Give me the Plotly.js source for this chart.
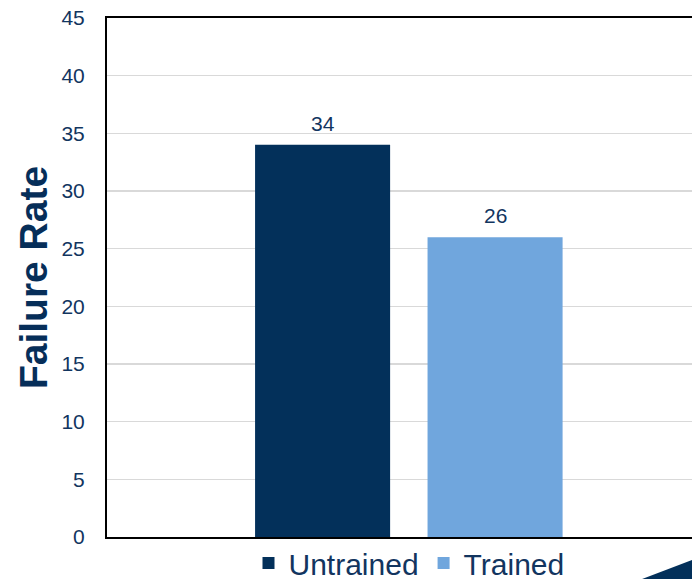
<!DOCTYPE html>
<html>
<head>
<meta charset="utf-8">
<script src="https://cdn.plot.ly/plotly-3.0.1.min.js"></script>
<style>
  html, body { margin: 0; padding: 0; overflow: hidden; background: #ffffff; }
  #chart { width: 720px; height: 579px; }
</style>
</head>
<body>
<div id="chart"></div>
<script>
// Failure rate by training group
const groups = ['Untrained', 'Trained'];
const failureRate = [34, 26];
const barColors = ['#03305a', '#70a6dd'];
const yTicks = [0, 5, 10, 15, 20, 25, 30, 35, 40, 45];

const navyText = '#12355f';
const font = 'Arial, "Liberation Sans", sans-serif';

const traces = groups.map((g, i) => ({
  type: 'bar',
  name: g,
  x: [g],
  y: [failureRate[i]],
  width: 0.783,
  marker: { color: barColors[i], line: { width: 0 } },
  hoverinfo: 'name+y'
}));

// value labels sitting above each bar
const labels = groups.map((g, i) => ({
  x: g, y: failureRate[i], xref: 'x', yref: 'y',
  text: String(failureRate[i]),
  showarrow: false, yanchor: 'bottom', yshift: 8,
  font: { family: font, size: 21, color: navyText }
}));

const layout = {
  width: 720,
  height: 579,
  margin: { l: 107, r: 9, t: 18, b: 42, autoexpand: false },
  paper_bgcolor: '#ffffff',
  plot_bgcolor: '#ffffff',
  barmode: 'overlay',
  showlegend: true,
  legend: {
    orientation: 'h',
    x: 0.5, xanchor: 'center',
    y: 0, yanchor: 'top',
    font: { family: font, size: 30, color: navyText },
    itemwidth: 30,
    bgcolor: 'rgba(0,0,0,0)'
  },
  xaxis: {
    type: 'category',
    range: [-1.25, 2.252],
    showticklabels: false,
    ticks: '',
    showgrid: false,
    showline: true, linecolor: '#000000', linewidth: 2,
    mirror: true,
    automargin: false,
    fixedrange: true
  },
  yaxis: {
    range: [0, 45],
    tickvals: yTicks,
    ticktext: yTicks.map(String),
    ticks: '',
    ticklabelstandoff: 16,
    tickfont: { family: font, size: 21, color: navyText },
    showgrid: true, gridcolor: '#d9d9d9', gridwidth: 1.5,
    zeroline: false,
    showline: true, linecolor: '#000000', linewidth: 2,
    mirror: true,
    automargin: false,
    fixedrange: true,
    title: {
      text: '<b>Failure Rate</b>',
      font: { family: font, size: 39, color: '#062e59' },
      standoff: 2
    }
  },
  annotations: labels,
  shapes: [{
    // corner accent of the slide
    type: 'path', xref: 'paper', yref: 'paper',
    path: 'M 0.886 -0.0809 L 0.99 -0.0347 L 0.99 -0.09 L 0.886 -0.09 Z',
    fillcolor: '#03305a', line: { width: 0 }, layer: 'above'
  }]
};

Plotly.newPlot('chart', traces, layout, { staticPlot: true, displayModeBar: false });
</script>
</body>
</html>
